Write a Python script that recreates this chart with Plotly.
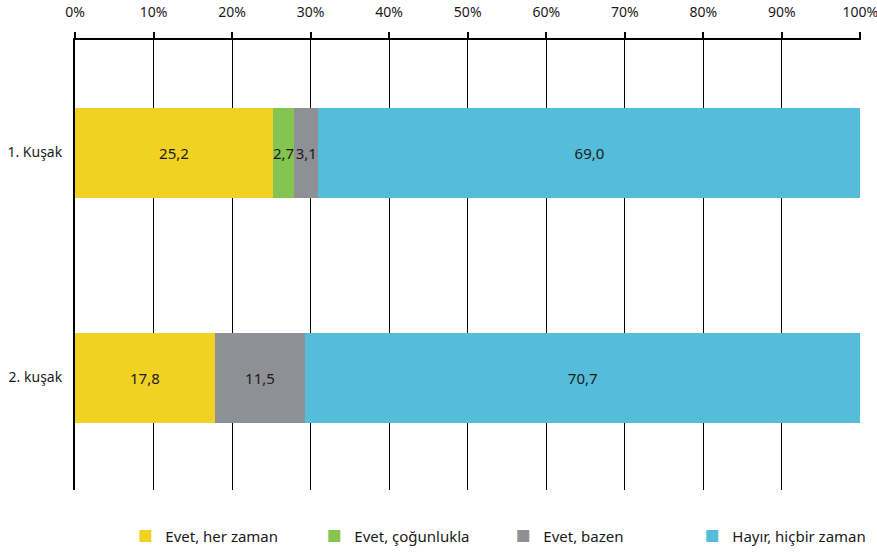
import plotly.graph_objects as go

categories = ["1. Kuşak", "2. kuşak"]
series_names = ["Evet, her zaman", "Evet, çoğunlukla", "Evet, bazen", "Hayır, hiçbir zaman"]
her_zaman = [25.2, 17.8]
cogunlukla = [2.7, 0.0]
bazen = [3.1, 11.5]
hicbir = [69.0, 70.7]
colors = ["#F2D125", "#86C452", "#8F9095", "#55BDDA"]
tick_vals = [0, 10, 20, 30, 40, 50, 60, 70, 80, 90, 100]
tick_text = ["0%", "10%", "20%", "30%", "40%", "50%", "60%", "70%", "80%", "90%", "100%"]

FONT = "Noto Sans"

fig = go.Figure()
for name, vals, col in zip(series_names, [her_zaman, cogunlukla, bazen, hicbir], colors):
    labels = [("%.1f" % v).replace(".", ",") if v > 0 else "" for v in vals]
    fig.add_trace(go.Bar(
        y=categories, x=vals, name=name, orientation="h",
        marker=dict(color=col, line=dict(width=0)),
        text=labels, textposition="inside", insidetextanchor="middle",
        textangle=0, constraintext="none",
        textfont=dict(family=FONT, size=15, color="#1a1a1a"),
        cliponaxis=False,
    ))

fig.update_layout(
    barmode="stack",
    bargap=0.6,
    width=877, height=554,
    margin=dict(l=75, r=16, t=40, b=64, autoexpand=False),
    paper_bgcolor="white", plot_bgcolor="white",
    font=dict(family=FONT, size=14, color="#1a1a1a"),
    showlegend=True,
    legend=dict(orientation="h", x=0.064, xanchor="left", y=-0.066, yanchor="top",
                font=dict(family=FONT, size=15, color="#1a1a1a"),
                entrywidth=144, entrywidthmode="pixels",
                itemwidth=30, traceorder="normal"),
    xaxis=dict(side="top", range=[0, 100.08], tickvals=tick_vals, ticktext=tick_text,
               showline=True, linecolor="black", linewidth=2,
               ticks="outside", ticklen=6, tickwidth=2, tickcolor="black",
               ticklabelstandoff=9, ticklabeloverflow="allow",
               showgrid=True, gridcolor="black", gridwidth=1, automargin=False,
               zeroline=False, tickfont=dict(family=FONT, size=14), fixedrange=True),
    yaxis=dict(autorange="reversed", showline=True, linecolor="black", linewidth=2,
               ticks="", showgrid=False, zeroline=False, ticklabelstandoff=8,
               automargin=False, tickfont=dict(family=FONT, size=14)),
)

fig.write_html("out.html", config={"displayModeBar": False},
               post_script="document.body.style.margin='0';document.body.style.overflow='hidden';")
